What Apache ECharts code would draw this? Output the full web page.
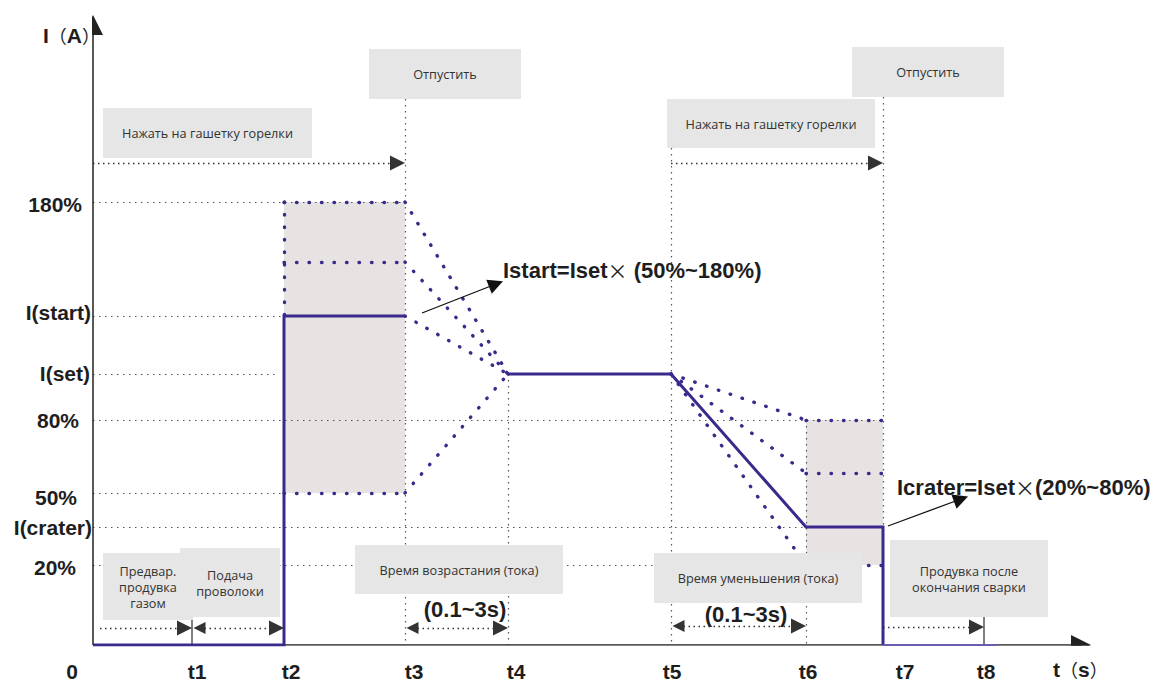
<!DOCTYPE html>
<html>
<head>
<meta charset="utf-8">
<script src="https://cdn.jsdelivr.net/npm/echarts@6/dist/echarts.min.js"></script>
<style>
  html, body { margin: 0; padding: 0; background: #fff; }
  #chart { width: 1154px; height: 684px; }
</style>
</head>
<body>
<div id="chart"></div>
<script>
// time marks on the x axis (diagram units)
var tNames = ['0', 't1', 't2', 't3', 't4', 't5', 't6', 't7', 't8'];
var tPos = [0, 0.99, 1.91, 3.12, 4.15, 5.78, 7.13, 7.90, 8.91];
var tLabelPos = [-0.21, 1.04, 1.98, 3.21, 4.23, 5.79, 7.15, 8.12, 8.93];

// current levels on the y axis
var levelNames = ['20%', 'I(crater)', '50%', '80%', 'I(set)', 'I(start)', '180%'];
var levelValues = [0.80, 1.18, 1.52, 2.25, 2.71, 3.29, 4.43];
var levelLabelRight = [-0.17, -0.01, -0.16, -0.14, -0.03, -0.02, -0.11];
var levelLabelY = [0.78, 1.18, 1.48, 2.25, 2.72, 3.33, 4.41];
var level150 = 3.83;
var levelCraterMid = 1.72;
var triggerY = 4.82;
var spanY = [0.17, 0.17, 0.17, 0.19, 0.18];

var axisTitles = ['I（A）', 't（s）'];
var axisTitlePos = [[-0.50, 6.10], [9.60, -0.24]];

// grey note boxes: [x1, yTop, x2, yBottom]
var boxTexts = ['Отпустить', 'Нажать на гашетку горелки', 'Отпустить', 'Нажать на гашетку горелки',
  'Предвар.\nпродувка\nгазом', 'Подача\nпроволоки', 'Время возрастания (тока)',
  'Время уменьшения (тока)', 'Продувка после\nокончания сварки'];
var boxRects = [
  [2.76, 5.96, 4.28, 5.46], [0.10, 5.37, 2.19, 4.87], [7.59, 5.98, 9.11, 5.48], [5.74, 5.46, 7.82, 4.97],
  [0.10, 0.92, 1.00, 0.25], [0.87, 0.97, 1.87, 0.28], [2.62, 1.00, 4.70, 0.51],
  [5.61, 0.92, 7.69, 0.42], [7.97, 1.05, 9.55, 0.28]
];

var formulaTexts = ['Istart=Iset× (50%~180%)', 'Icrater=Iset×(20%~80%)'];
var formulaPos = [[4.10, 3.75], [8.04, 1.58]];
var formulaArrows = [[3.29, 3.32, 4.03, 3.61], [7.95, 1.19, 8.68, 1.46]];
var rampTexts = ['(0.1~3s)', '(0.1~3s)'];
var rampPos = [[3.72, 0.36], [6.53, 0.31]];

var purple = '#3b2a8b';
var ink = '#1e1e1e';
var gridInk = '#555';
var T = function (i) { return tPos[i]; };
var L = function (name) { return levelValues[levelNames.indexOf(name)]; };
var tip = 0.075;

function seg(x1, y1, x2, y2, extra) {
  var d = { coords: [[x1, y1], [x2, y2]] };
  if (extra) for (var k in extra) d[k] = extra[k];
  return d;
}

// grey dotted guide lines
var guideLines = [
  seg(0, L('180%'), T(3), L('180%')),
  seg(0, L('I(start)'), T(2), L('I(start)')),
  seg(0, L('I(set)'), T(2) - 0.07, L('I(set)')),
  seg(0, L('80%'), T(7), L('80%')),
  seg(0, L('50%'), T(2), L('50%')),
  seg(0, L('I(crater)'), T(6), L('I(crater)')),
  seg(0, L('20%'), T(6), L('20%')),
  seg(T(3), boxRects[0][3], T(3), 0),
  seg(T(4), L('I(set)'), T(4), 0),
  seg(T(5), boxRects[3][3], T(5), 0),
  seg(T(6), L('80%'), T(6), 0),
  seg(T(7), boxRects[2][3], T(7), 0)
];

// purple dotted options
var optionLines = [
  seg(T(2), L('180%'), T(2), L('I(start)')),
  seg(T(2), L('180%'), T(3), L('180%')),
  seg(T(2), level150, T(3), level150),
  seg(T(2), L('50%'), T(3), L('50%')),
  seg(T(3), L('180%'), T(4), L('I(set)')),
  seg(T(3), level150, T(4), L('I(set)')),
  seg(T(3), L('I(start)'), T(4), L('I(set)')),
  seg(T(3), L('50%'), T(4), L('I(set)')),
  seg(T(5), L('I(set)'), T(6), L('80%')),
  seg(T(5), L('I(set)'), T(6), levelCraterMid),
  seg(T(5), L('I(set)'), T(6), L('20%')),
  seg(T(6), L('80%'), T(7), L('80%')),
  seg(T(6), levelCraterMid, T(7), levelCraterMid),
  seg(T(6), L('20%'), T(7), L('20%'))
];

// solid welding current profile
var profile = [
  { coords: [[0, 0], [T(2), 0], [T(2), L('I(start)')], [T(3), L('I(start)')]] },
  { coords: [[T(4), L('I(set)')], [T(5), L('I(set)')], [T(6), L('I(crater)')], [T(7), L('I(crater)')], [T(7), 0]] }
];

var arrowEnd = { symbol: ['none', 'triangle'] };
var arrowBoth = { symbol: ['triangle', 'triangle'] };
var spanArrows = [
  seg(0.07, spanY[0], T(1) - tip, spanY[0], arrowEnd),
  seg(T(1) + tip, spanY[1], T(2) - tip, spanY[1], arrowBoth),
  seg(T(3) + tip, spanY[2], T(4) - tip, spanY[2], arrowBoth),
  seg(T(5) + tip, spanY[3], T(6) - tip, spanY[3], arrowBoth),
  seg(T(7), spanY[4], T(8) - tip, spanY[4], arrowEnd),
  seg(0, triggerY, T(3) - tip, triggerY, arrowEnd),
  seg(T(5), triggerY, T(7) - tip, triggerY, arrowEnd)
];

var boldFont = 'bold 21px "Liberation Sans"';
var rich = {
  b: { font: boldFont, fill: ink },
  f: { font: 'bold 22px "Liberation Sans"', fill: ink },
  p: { font: '18px "Noto Sans CJK SC"', fill: ink },
  m: { font: '20px "Noto Sans CJK SC"', fill: ink }
};
function richTitle(s) {
  return s.split('').map(function (c) { return (c === '（' || c === '）') ? '{p|' + c + '}' : '{b|' + c + '}'; }).join('');
}
function richFormula(s) {
  return s.split('×').map(function (part) { return '{f|' + part + '}'; }).join('{m|×}');
}

// all free texts
var texts = [];
tNames.forEach(function (n, i) {
  texts.push({ x: tLabelPos[i], y: -0.26, text: n, align: 'center' });
});
axisTitles.forEach(function (s, i) {
  texts.push({ x: axisTitlePos[i][0], y: axisTitlePos[i][1], text: richTitle(s), align: 'left' });
});
levelNames.forEach(function (n, i) {
  texts.push({ x: levelLabelRight[i], y: levelLabelY[i], text: n, align: 'right' });
});
formulaTexts.forEach(function (s, i) {
  texts.push({ x: formulaPos[i][0], y: formulaPos[i][1], text: richFormula(s), align: 'left' });
});
rampTexts.forEach(function (s, i) {
  texts.push({ x: rampPos[i][0], y: rampPos[i][1], text: '{f|' + s + '}', align: 'center' });
});

var chart = echarts.init(document.getElementById('chart'), null, { renderer: 'svg' });
chart.setOption({
  animation: false,
  backgroundColor: '#fff',
  grid: { left: 93, right: 56, top: 15, bottom: 39 },
  xAxis: { type: 'value', min: 0, max: 10.05, show: false },
  yAxis: { type: 'value', min: 0, max: 6.30, show: false },
  series: [
    {
      type: 'custom', z: 1, silent: true,
      data: [[T(2), L('50%'), T(3), L('180%')], [T(6), L('20%'), T(7), L('80%')]],
      renderItem: function (params, api) {
        var a = api.coord([api.value(0), api.value(3)]);
        var b = api.coord([api.value(2), api.value(1)]);
        return { type: 'rect', shape: { x: a[0], y: a[1], width: b[0] - a[0], height: b[1] - a[1] }, style: { fill: '#e8e3e3' } };
      }
    },
    {
      type: 'lines', coordinateSystem: 'cartesian2d', z: 2, silent: true,
      lineStyle: { color: gridInk, width: 1.2, type: [1.5, 4.5], opacity: 1 },
      data: guideLines
    },
    {
      type: 'lines', coordinateSystem: 'cartesian2d', z: 2, silent: true,
      lineStyle: { color: '#555', width: 1.5, opacity: 1 },
      data: [seg(T(1), 0.25, T(1), 0), seg(T(8), 0.28, T(8), 0)]
    },
    {
      type: 'lines', coordinateSystem: 'cartesian2d', z: 3, silent: true,
      lineStyle: { color: purple, width: 3.4, type: [0.5, 12], cap: 'round', opacity: 1 },
      data: optionLines
    },
    {
      type: 'lines', coordinateSystem: 'cartesian2d', z: 4, silent: true,
      lineStyle: { color: '#222', width: 1.5, opacity: 1 },
      symbol: ['none', 'triangle'], symbolSize: [12, 20],
      data: [seg(0, 0, 0, 6.20), seg(0, 0, 9.88, 0)]
    },
    {
      type: 'lines', coordinateSystem: 'cartesian2d', polyline: true, z: 5, silent: true,
      lineStyle: { color: purple, width: 3, opacity: 1, join: 'miter' },
      data: profile
    },
    {
      type: 'lines', coordinateSystem: 'cartesian2d', z: 5, silent: true,
      lineStyle: { color: '#6a5cb0', width: 2, opacity: 1 },
      data: [seg(T(7), 0, 9.04, 0)]
    },
    {
      type: 'custom', z: 6, silent: true,
      data: boxRects,
      renderItem: function (params, api) {
        var a = api.coord([api.value(0), api.value(1)]);
        var b = api.coord([api.value(2), api.value(3)]);
        return {
          type: 'rect',
          shape: { x: a[0], y: a[1], width: b[0] - a[0], height: b[1] - a[1] },
          style: { fill: '#e6e6e6' },
          textContent: { style: { text: boxTexts[params.dataIndex], font: '12.7px "Open Sans"', fill: '#333', align: 'center', lineHeight: 16 } },
          textConfig: { position: 'inside' }
        };
      }
    },
    {
      type: 'lines', coordinateSystem: 'cartesian2d', z: 7, silent: true,
      lineStyle: { color: '#333', width: 1.3, type: [1.5, 3.5], opacity: 1 },
      symbolSize: [12, 15],
      data: spanArrows
    },
    {
      type: 'lines', coordinateSystem: 'cartesian2d', z: 7, silent: true,
      lineStyle: { color: '#111', width: 1.3, opacity: 1 },
      symbol: ['none', 'triangle'], symbolSize: [11, 15],
      data: formulaArrows.map(function (a) { return seg(a[0], a[1], a[2], a[3]); })
    },
    {
      type: 'custom', z: 8, silent: true,
      data: texts.map(function (t) { return [t.x, t.y]; }),
      renderItem: function (params, api) {
        var t = texts[params.dataIndex];
        var p = api.coord([t.x, t.y]);
        return { type: 'text', x: p[0], y: p[1], style: { text: t.text, rich: rich, font: boldFont, fill: ink, align: t.align, verticalAlign: 'middle' } };
      }
    }
  ]
});
window.addEventListener('resize', function () { chart.resize(); });
</script>
</body>
</html>
